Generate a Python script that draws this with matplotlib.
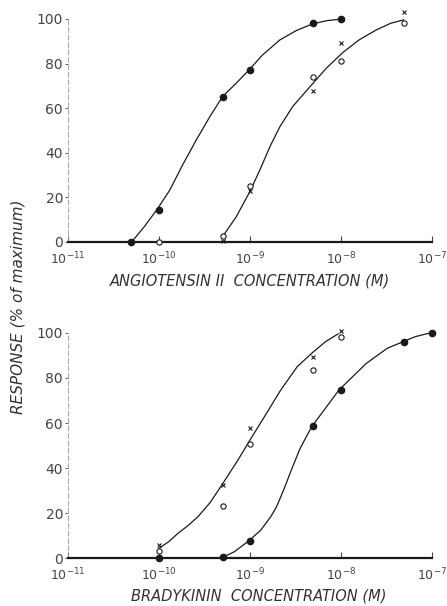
import matplotlib
matplotlib.use("Agg")
from matplotlib import pyplot as plt

# ---- data (log10 concentration, % response) ----
# Angiotensin II panel
ang_solid_x = [-10.31, -10.0, -9.30, -9.0, -8.31, -8.0]
ang_solid_y = [0, 14.5, 65, 77, 98, 100]
ang_open_x = [-10.0, -9.30, -9.0, -8.31, -8.0, -7.31]
ang_open_y = [0, 2.5, 25, 74, 81, 98]
ang_cross_x = [-9.30, -9.0, -8.31, -8.0, -7.31]
ang_cross_y = [0.5, 23, 67.5, 89, 103]

ang_curve1_x = [-10.30, -10.16, -10.02, -9.88, -9.74, -9.59, -9.44, -9.30, -9.15,
                -9.01, -8.86, -8.67, -8.49, -8.31, -8.16, -8.01]
ang_curve1_y = [0, 6.9, 14.6, 23.3, 34.5, 45.7, 56.2, 65.2, 71.2,
                77.1, 83.9, 90.6, 94.8, 97.8, 99.2, 99.9]
ang_curve2_x = [-9.30, -9.15, -9.00, -8.89, -8.78, -8.67, -8.53, -8.34, -8.16,
                -7.98, -7.80, -7.61, -7.45, -7.31]
ang_curve2_y = [2.4, 11.3, 22.6, 32.3, 42.7, 51.7, 60.7, 69.6, 77.9,
                84.9, 90.6, 95.1, 98.1, 99.6]

# Bradykinin panel
bk_solid_x = [-10.0, -9.30, -9.0, -8.31, -8.0, -7.31, -7.0]
bk_solid_y = [0, 0.4, 7.7, 58.5, 74.8, 95.9, 100]
bk_open_x = [-10.0, -9.30, -9.0, -8.31, -8.0]
bk_open_y = [3, 23, 50.8, 83.7, 98]
bk_cross_x = [-10.0, -9.30, -9.0, -8.31, -8.0]
bk_cross_y = [6, 32.6, 57.8, 89.3, 101]

bk_curve1_x = [-10.00, -9.89, -9.79, -9.68, -9.57, -9.44, -9.32, -9.13, -9.01, -8.84,
               -8.66, -8.48, -8.32, -8.17, -8.03]
bk_curve1_y = [4.3, 7.3, 11, 14.4, 18.4, 24.5, 31.7, 43.6, 51.7, 62.8,
               74.7, 85, 91, 96.1, 99.6]
bk_curve2_x = [-9.30, -9.17, -9.01, -8.88, -8.77, -8.71, -8.66, -8.60, -8.55, -8.45,
               -8.32, -8.17, -8.02, -7.72, -7.49, -7.33, -7.18, -7.02]
bk_curve2_y = [0.3, 2.8, 7.7, 12.4, 18.4, 22.5, 27.2, 33.2, 38.5, 48.5,
               58.4, 66.5, 74.7, 86.5, 93.2, 95.9, 98.4, 100]

decades = [-11, -10, -9, -8, -7]
yticks = [0, 20, 40, 60, 80, 100]

ink = "#1a1a1a"
grey = "#444444"
fig = plt.figure(figsize=(4.47, 6.06), dpi=100)


def style_axes(ax, xlabel, label_x, label_y):
    ax.set_xlim(-11, -7)
    ax.set_ylim(0, 100)
    for side in ("top", "right"):
        ax.spines[side].set_visible(False)
    ax.spines["bottom"].set_linewidth(1.6)
    ax.spines["bottom"].set_color(ink)
    ax.spines["left"].set_linewidth(0.6)
    ax.spines["left"].set_color("#999999")
    ax.spines["left"].set_linestyle((0, (6, 3)))
    ax.set_xticks(decades)
    ax.set_xticklabels([r"$10^{%d}$" % d for d in decades], fontsize=9, color=grey)
    ax.set_yticks(yticks)
    ax.set_yticklabels([str(v) for v in yticks], fontsize=10, color=grey)
    ax.tick_params(axis="x", direction="in", length=4, width=0.8, pad=6, colors=grey)
    ax.tick_params(axis="y", direction="out", length=2.5, width=0.6, pad=1, colors=grey)
    ax.set_xlabel(xlabel, fontsize=10.5, style="italic", color="#333333")
    ax.xaxis.set_label_coords(label_x, label_y)


def draw(ax, c1, c2, solid, opn, cross):
    ax.plot(c1[0], c1[1], color=ink, lw=0.9, clip_on=False)
    ax.plot(c2[0], c2[1], color=ink, lw=0.9, clip_on=False)
    ax.plot(solid[0], solid[1], "o", color=ink, ms=4.5, clip_on=False, zorder=4)
    ax.plot(opn[0], opn[1], "o", mfc="white", mec=ink, mew=0.8, ms=3.8, clip_on=False, zorder=4)
    ax.plot(cross[0], cross[1], "x", color=ink, mew=0.8, ms=3.2, clip_on=False, zorder=4)


ax1 = fig.add_axes([0.152, 0.6007, 0.814, 0.368])
style_axes(ax1, "ANGIOTENSIN II  CONCENTRATION (M)", 0.5, -0.14)
draw(ax1, (ang_curve1_x, ang_curve1_y), (ang_curve2_x, ang_curve2_y),
     (ang_solid_x, ang_solid_y), (ang_open_x, ang_open_y), (ang_cross_x, ang_cross_y))

ax2 = fig.add_axes([0.152, 0.0792, 0.814, 0.3713])
style_axes(ax2, "BRADYKININ  CONCENTRATION (M)", 0.525, -0.135)
draw(ax2, (bk_curve1_x, bk_curve1_y), (bk_curve2_x, bk_curve2_y),
     (bk_solid_x, bk_solid_y), (bk_open_x, bk_open_y), (bk_cross_x, bk_cross_y))

fig.text(0.04, 0.493, "RESPONSE (% of maximum)", rotation=90, ha="center", va="center",
         fontsize=11, style="italic", color="#333333")

fig.savefig("out.png", dpi=100)
